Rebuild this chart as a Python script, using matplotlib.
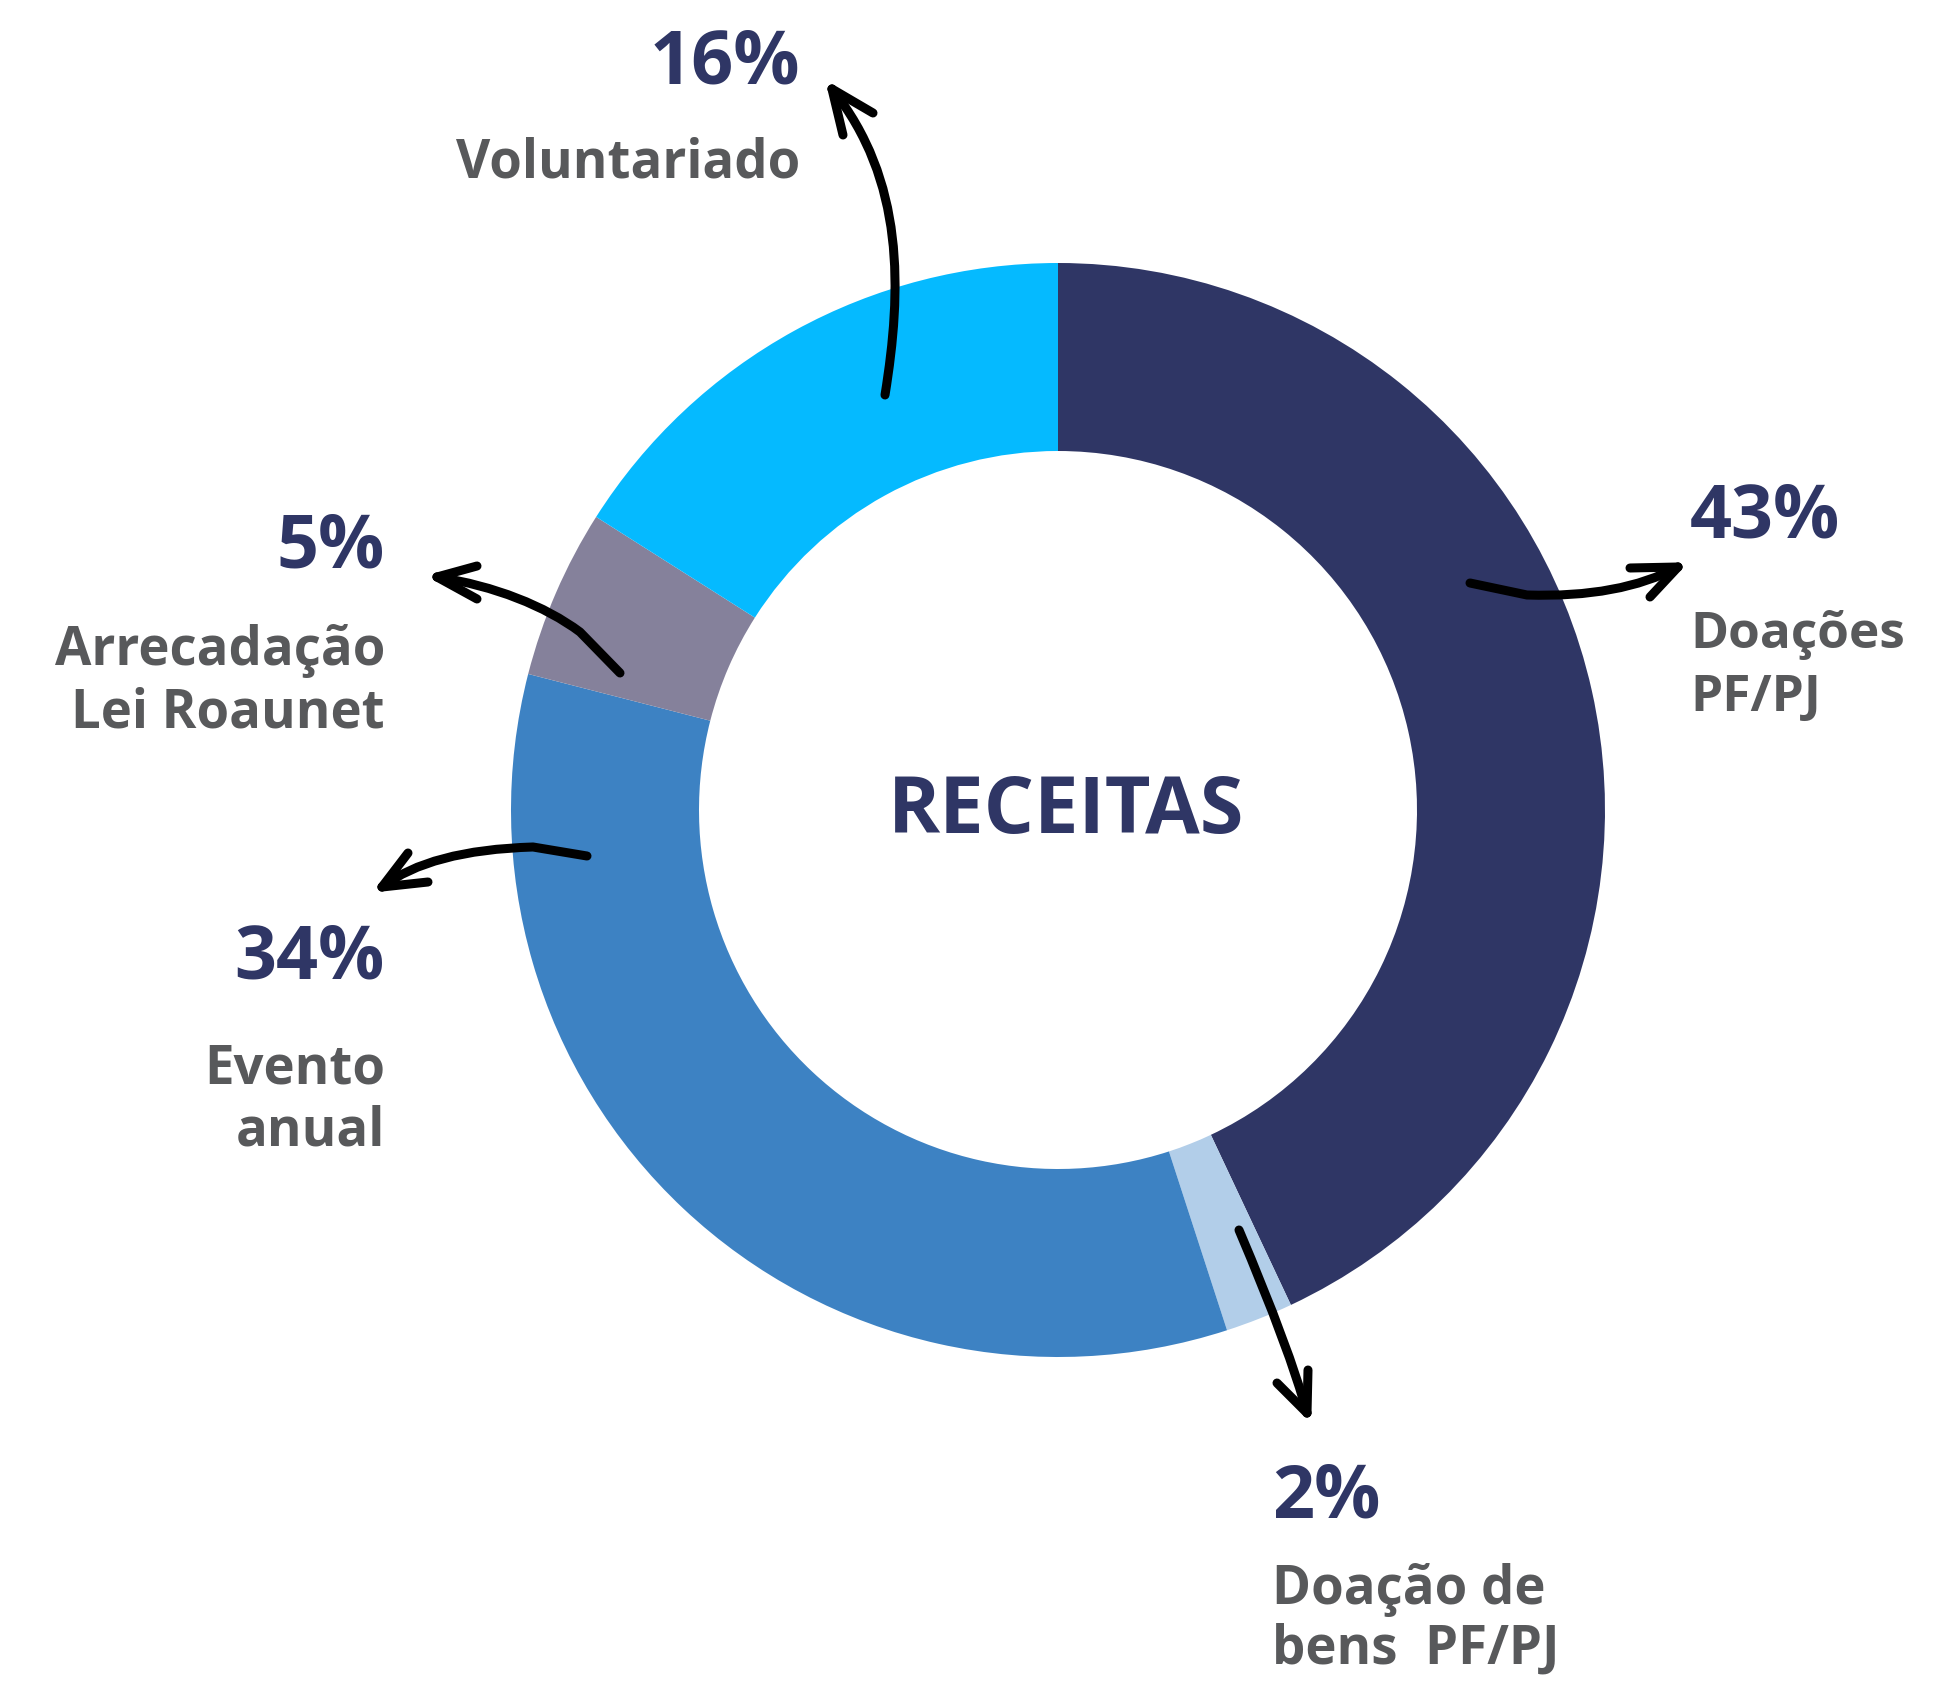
import matplotlib.pyplot as plt
from matplotlib.path import Path
from matplotlib.patches import PathPatch

# Receitas data (clockwise from the top)
categories = ['Doações PF/PJ', 'Doação de bens PF/PJ', 'Evento anual',
              'Arrecadação Lei Roaunet', 'Voluntariado']
shares = [43, 2, 34, 5, 16]
colors = ['#2F3665', '#B2CEE9', '#3D82C3', '#85819B', '#05BAFF']

pct_labels = ['43%', '2%', '34%', '5%', '16%']
name_lines = [['Doações', 'PF/PJ'], ['Doação de', 'bens  PF/PJ'],
              ['Evento', 'anual'], ['Arrecadação', 'Lei Roaunet'],
              ['Voluntariado']]

W, H = 1940, 1684
NAVY = '#2F3665'
GREY = '#58595B'
FONT = ['Open Sans', 'DejaVu Sans']


def Y(py):
    # pixel row (top = 0) to data y
    return H - py


fig = plt.figure(figsize=(W / 100, H / 100), dpi=100)
ax = fig.add_axes([0, 0, 1, 1])

ax.pie(shares, colors=colors, startangle=90, counterclock=False,
       center=(1058, Y(810)), radius=547,
       wedgeprops=dict(width=188, linewidth=0))
ax.set_xlim(0, W)
ax.set_ylim(0, H)
ax.set_aspect('equal')
ax.axis('off')

ax.text(1066, Y(813), 'RECEITAS', ha='center', va='center', fontsize=57,
        fontweight='bold', color=NAVY, family=FONT)

# label anchors: x, alignment, baseline of pct, baseline of first name line,
# font size, line step
anchors = [(1690, 'left', 537, 648, 37, 63),
           (1272, 'left', 1517, 1604, 38, 60),
           (385, 'right', 979, 1083, 38, 63),
           (385, 'right', 567, 665, 38, 63),
           (800, 'right', 83, 177, 38, 63)]

for pct, lines, (x, ha, yb, ny, fs, step) in zip(pct_labels, name_lines,
                                                 anchors):
    ax.text(x, Y(yb), pct, ha=ha, va='baseline', fontsize=53,
            fontweight='bold', color=NAVY, family=FONT)
    for i, line in enumerate(lines):
        ax.text(x, Y(ny + i * step), line, ha=ha, va='baseline', fontsize=fs,
                fontweight='bold', color=GREY, family=FONT)


# hand drawn style arrows
def arrow(verts, codes, head, barbs):
    pts = [(x, Y(y)) for x, y in verts]
    ax.add_patch(PathPatch(Path(pts, codes), fill=False, lw=6.5,
                           edgecolor='black', capstyle='round',
                           joinstyle='round'))
    for bx, by in barbs:
        ax.plot([head[0], bx], [Y(head[1]), Y(by)], color='black', lw=6.5,
                solid_capstyle='round')


M, L, C3, C4 = Path.MOVETO, Path.LINETO, Path.CURVE3, Path.CURVE4

# Voluntariado
arrow([(885, 395), (902, 290), (905, 180), (832, 89)], [M, C4, C4, C4],
      (832, 89), [(843, 135), (873, 113)])
# Doações PF/PJ
arrow([(1470, 583), (1527, 595), (1620, 598), (1678, 567)], [M, L, C3, C3],
      (1678, 567), [(1630, 568), (1650, 597)])
# Arrecadação
arrow([(620, 673), (580, 632), (545, 606), (495, 586), (437, 577)],
      [M, L, C4, C4, C4], (437, 577), [(477, 566), (477, 599)])
# Evento anual
arrow([(587, 856), (533, 847), (430, 850), (382, 887)], [M, L, C3, C3],
      (382, 887), [(408, 853), (428, 882)])
# Doação de bens
arrow([(1239, 1230), (1290, 1350), (1307, 1413)], [M, C3, C3],
      (1307, 1413), [(1308, 1370), (1277, 1383)])

plt.savefig('out.png', dpi=100)
